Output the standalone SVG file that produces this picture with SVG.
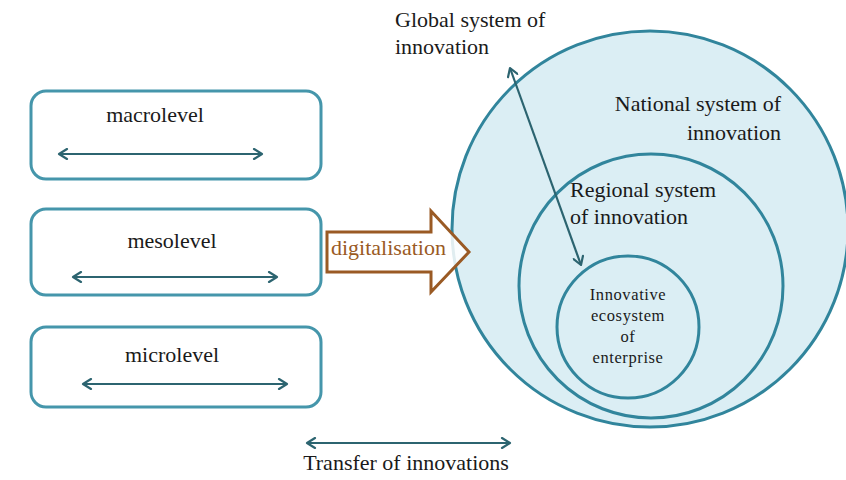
<svg xmlns="http://www.w3.org/2000/svg" width="846" height="480" viewBox="0 0 846 480">
  <style>
    .box { fill: #ffffff; stroke: #4596AB; stroke-width: 3; }
    .sys { fill: #DBEEF4; stroke: #31859C; stroke-width: 3; }
    .flow { fill: none; stroke: #2C6470; stroke-width: 2.2; marker-start: url(#chev); marker-end: url(#chev); }
    text { font-family: 'Liberation Serif', 'DejaVu Serif', serif; }
    .lbl { font-size: 22px; fill: #1a1a1a; }
    .small { font-size: 16.5px; letter-spacing: 0.6px; }
    .digi { font-size: 22px; fill: #9A5A24; }
  </style>
  <defs>
    <marker id="chev" viewBox="0 0 12 12" refX="10" refY="6" markerWidth="12" markerHeight="12" markerUnits="userSpaceOnUse" orient="auto-start-reverse">
      <polyline points="2,1 10,6 2,11" fill="none" stroke="#2C6470" stroke-width="2.2" stroke-linecap="round" stroke-linejoin="round"/>
    </marker>
  </defs>

  <rect width="846" height="480" fill="#ffffff"/>

  <!-- nested innovation systems -->
  <g id="national">
    <circle class="sys" cx="650" cy="229" r="198"/>
    <text class="lbl" x="781" y="111" text-anchor="end" font-family="Liberation Serif, serif">National system of</text>
    <text class="lbl" x="781" y="140" text-anchor="end" font-family="Liberation Serif, serif">innovation</text>
  </g>
  <g id="regional">
    <circle class="sys" cx="651" cy="286" r="132"/>
    <text class="lbl" x="570" y="197" font-family="Liberation Serif, serif">Regional system</text>
    <text class="lbl" x="570" y="224" font-family="Liberation Serif, serif">of innovation</text>
  </g>
  <g id="enterprise">
    <circle class="sys" cx="628" cy="327" r="71"/>
    <text class="lbl small" x="628" y="300" text-anchor="middle" font-family="Liberation Serif, serif">Innovative</text>
    <text class="lbl small" x="628" y="321" text-anchor="middle" font-family="Liberation Serif, serif">ecosystem</text>
    <text class="lbl small" x="628" y="342" text-anchor="middle" font-family="Liberation Serif, serif">of</text>
    <text class="lbl small" x="628" y="363" text-anchor="middle" font-family="Liberation Serif, serif">enterprise</text>
  </g>
  <g id="global">
    <text class="lbl" x="395" y="27" font-family="Liberation Serif, serif">Global system of</text>
    <text class="lbl" x="395" y="54" font-family="Liberation Serif, serif">innovation</text>
  </g>

  <!-- levels -->
  <g id="macrolevel">
    <rect class="box" x="31" y="91" width="290" height="88" rx="15"/>
    <text class="lbl" x="155" y="122" text-anchor="middle" font-family="Liberation Serif, serif">macrolevel</text>
  </g>
  <g id="mesolevel">
    <rect class="box" x="31" y="209" width="290" height="86" rx="15"/>
    <text class="lbl" x="172" y="248" text-anchor="middle" font-family="Liberation Serif, serif">mesolevel</text>
  </g>
  <g id="microlevel">
    <rect class="box" x="31" y="327" width="290" height="80" rx="15"/>
    <text class="lbl" x="172" y="362" text-anchor="middle" font-family="Liberation Serif, serif">microlevel</text>
  </g>

  <g id="digitalisation">
    <polygon points="327,232 431,232 431,211 469,252 431,292 431,272 327,272" fill="#ffffff" fill-opacity="0.85" stroke="#9A5A24" stroke-width="3" stroke-linejoin="miter"/>
    <text class="digi" x="331" y="255" font-family="Liberation Serif, serif">digitalisation</text>
  </g>

  <g id="transfer">
    <text class="lbl" x="406" y="470" text-anchor="middle" font-family="Liberation Serif, serif">Transfer of innovations</text>
  </g>

  <!-- connectors -->
  <g id="connectors">
    <line class="flow" x1="59" y1="154" x2="262" y2="154"/>
    <line class="flow" x1="73" y1="277" x2="277" y2="277"/>
    <line class="flow" x1="83" y1="384" x2="287" y2="384"/>
    <line class="flow" x1="307" y1="443" x2="510" y2="443"/>
    <line class="flow" x1="510" y1="68" x2="581" y2="265"/>
  </g>
</svg>
